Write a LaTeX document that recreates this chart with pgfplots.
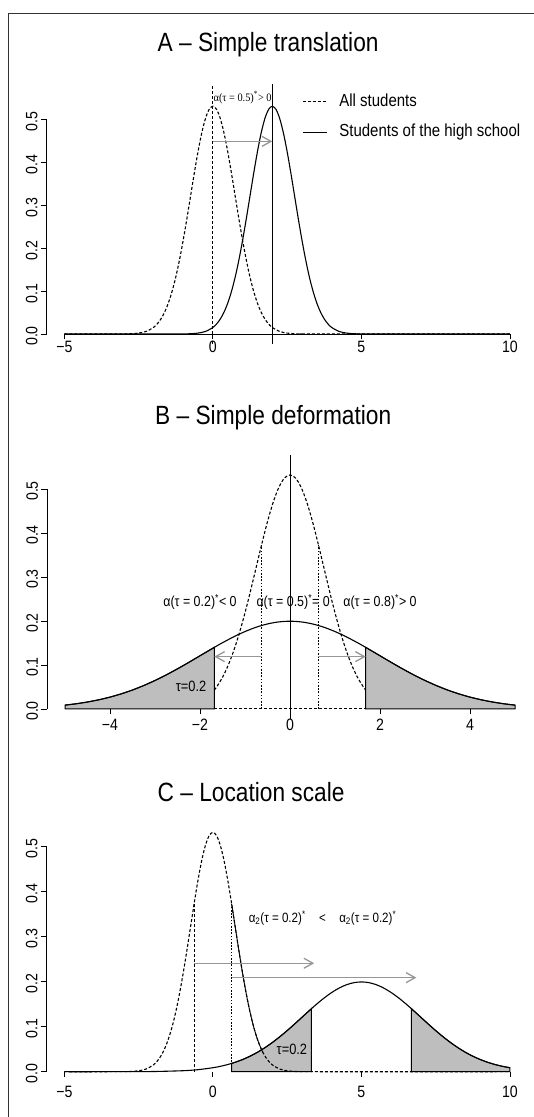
\documentclass[border=0pt]{standalone}
\usepackage{fontspec}
\setmainfont{Liberation Sans}[FakeStretch=0.86]
\newfontfamily\annserif{Liberation Serif}[FakeStretch=0.9]
\usepackage{pgfplots}
\pgfplotsset{compat=1.18}
\usepackage{pgfplotstable}
\usetikzlibrary{arrows.meta}
\definecolor{fillgray}{RGB}{190,190,190}
\definecolor{arrgray}{RGB}{150,150,150}

% N(0,0.75)
\pgfplotstableread{
x y
-5 0
-3.5 0.0000
-3 0.0002
-2.75 0.0006
-2.5 0.0021
-2.25 0.0059
-2 0.0152
-1.875 0.0234
-1.75 0.0350
-1.625 0.0509
-1.5 0.0720
-1.375 0.0991
-1.25 0.1326
-1.125 0.1727
-1 0.2187
-0.875 0.2693
-0.75 0.3226
-0.625 0.3759
-0.5 0.4259
-0.375 0.4694
-0.25 0.5032
-0.125 0.5246
0 0.5319
0.125 0.5246
0.25 0.5032
0.375 0.4694
0.5 0.4259
0.625 0.3759
0.75 0.3226
0.875 0.2693
1 0.2187
1.125 0.1727
1.25 0.1326
1.375 0.0991
1.5 0.0720
1.625 0.0509
1.75 0.0350
1.875 0.0234
2 0.0152
2.25 0.0059
2.5 0.0021
2.75 0.0006
3 0.0002
3.5 0.0000
10 0
}\nzero

% N(2,0.75)
\pgfplotstableread{
x y
-5 0
-1.5 0.0000
-1 0.0002
-0.75 0.0006
-0.5 0.0021
-0.25 0.0059
0 0.0152
0.125 0.0234
0.25 0.0350
0.375 0.0509
0.5 0.0720
0.625 0.0991
0.75 0.1326
0.875 0.1727
1 0.2187
1.125 0.2693
1.25 0.3226
1.375 0.3759
1.5 0.4259
1.625 0.4694
1.75 0.5032
1.875 0.5246
2 0.5319
2.125 0.5246
2.25 0.5032
2.375 0.4694
2.5 0.4259
2.625 0.3759
2.75 0.3226
2.875 0.2693
3 0.2187
3.125 0.1727
3.25 0.1326
3.375 0.0991
3.5 0.0720
3.625 0.0509
3.75 0.0350
3.875 0.0234
4 0.0152
4.25 0.0059
4.5 0.0021
4.75 0.0006
5 0.0002
5.5 0.0000
10 0
}\ntwo

% N(0,0.75) between the 0.2 quantiles of N(0,2)
\pgfplotstableread{
x y
-1.683 0.0429
-1.625 0.0509
-1.5 0.0720
-1.375 0.0991
-1.25 0.1326
-1.125 0.1727
-1 0.2187
-0.875 0.2693
-0.75 0.3226
-0.625 0.3759
-0.5 0.4259
-0.375 0.4694
-0.25 0.5032
-0.125 0.5246
0 0.5319
0.125 0.5246
0.25 0.5032
0.375 0.4694
0.5 0.4259
0.625 0.3759
0.75 0.3226
0.875 0.2693
1 0.2187
1.125 0.1727
1.25 0.1326
1.375 0.0991
1.5 0.0720
1.625 0.0509
1.683 0.0429
}\nzerocut

% N(0,0.75), right flank segment
\pgfplotstableread{
x y
0.631 0.3733
0.75 0.3226
0.875 0.2693
1 0.2187
1.125 0.1727
1.25 0.1326
1.375 0.0991
1.5 0.0720
1.625 0.0509
1.683 0.0429
}\nzeroflank

% N(0,2) on [-5,5]
\pgfplotstableread{
x y
-5 0.0088
-4.75 0.0119
-4.5 0.0159
-4.25 0.0209
-4 0.0270
-3.75 0.0344
-3.5 0.0431
-3.25 0.0533
-3 0.0648
-2.75 0.0775
-2.5 0.0913
-2.25 0.1059
-2 0.1210
-1.75 0.1360
-1.683 0.1400
-1.5 0.1506
-1.25 0.1641
-1 0.1760
-0.75 0.1859
-0.5 0.1933
-0.25 0.1979
0 0.1995
0.25 0.1979
0.5 0.1933
0.75 0.1859
1 0.1760
1.25 0.1641
1.5 0.1506
1.683 0.1400
1.75 0.1360
2 0.1210
2.25 0.1059
2.5 0.0913
2.75 0.0775
3 0.0648
3.25 0.0533
3.5 0.0431
3.75 0.0344
4 0.0270
4.25 0.0209
4.5 0.0159
4.75 0.0119
5 0.0088
}\nBwide

\pgfplotstableread{
x y
-5 0.0088
-4.75 0.0119
-4.5 0.0159
-4.25 0.0209
-4 0.0270
-3.75 0.0344
-3.5 0.0431
-3.25 0.0533
-3 0.0648
-2.75 0.0775
-2.5 0.0913
-2.25 0.1059
-2 0.1210
-1.75 0.1360
-1.683 0.1400
}\nBleft

\pgfplotstableread{
x y
1.683 0.1400
1.75 0.1360
2 0.1210
2.25 0.1059
2.5 0.0913
2.75 0.0775
3 0.0648
3.25 0.0533
3.5 0.0431
3.75 0.0344
4 0.0270
4.25 0.0209
4.5 0.0159
4.75 0.0119
5 0.0088
}\nBright

% N(5,2)
\pgfplotstableread{
x y
-5 0
-4 0.0000
-3 0.0001
-2 0.0004
-1 0.0022
-0.5 0.0045
0 0.0088
0.25 0.0119
0.5 0.0159
0.75 0.0209
1 0.0270
1.25 0.0344
1.5 0.0431
1.75 0.0533
2 0.0648
2.25 0.0775
2.5 0.0913
2.75 0.1059
3 0.1210
3.25 0.1360
3.317 0.1400
3.5 0.1506
3.75 0.1641
4 0.1760
4.25 0.1859
4.5 0.1933
4.75 0.1979
5 0.1995
5.25 0.1979
5.5 0.1933
5.75 0.1859
6 0.1760
6.25 0.1641
6.5 0.1506
6.683 0.1400
6.75 0.1360
7 0.1210
7.25 0.1059
7.5 0.0913
7.75 0.0775
8 0.0648
8.25 0.0533
8.5 0.0431
8.75 0.0344
9 0.0270
9.25 0.0209
9.5 0.0159
9.75 0.0119
10 0.0088
}\nCwide

\pgfplotstableread{
x y
0.631 0.0183
0.75 0.0209
1 0.0270
1.25 0.0344
1.5 0.0431
1.75 0.0533
2 0.0648
2.25 0.0775
2.5 0.0913
2.75 0.1059
3 0.1210
3.25 0.1360
3.317 0.1400
}\nCleft

\pgfplotstableread{
x y
6.683 0.1400
6.75 0.1360
7 0.1210
7.25 0.1059
7.5 0.0913
7.75 0.0775
8 0.0648
8.25 0.0533
8.5 0.0431
8.75 0.0344
9 0.0270
9.25 0.0209
9.5 0.0159
9.75 0.0119
10 0.0088
}\nCright

\pgfplotsset{
  myax/.style={
    scale only axis, clip=false,
    axis lines*=left,
    axis line style={draw=none},
    tick pos=left, tick align=outside,
    major tick length=5.5bp,
    tick style={black, line width=0.9bp},
    ymin=0,
    ytick={0,0.1,0.2,0.3,0.4,0.5},
    yticklabels={0.0,0.1,0.2,0.3,0.4,0.5},
    tick label style={font=\fontsize{16.5}{18}\selectfont},
    yticklabel style={rotate=90, anchor=south, xshift=-2bp},
    xticklabel style={anchor=north},
  },
  dashcurve/.style={black, line width=1.1bp, dash pattern=on 3bp off 2bp},
  solidcurve/.style={black, line width=1.1bp},
  dotline/.style={black, line width=1bp, dash pattern=on 1.6bp off 1.6bp},
  arr/.style={arrgray, line width=1.3bp, -{Straight Barb[length=9bp,width=10bp,line width=1.3bp]}},
}

\begin{document}
\begin{tikzpicture}[x=1bp,y=1bp]
% outer frame
\draw[line width=1.4bp, black!80] (8.3bp,-10bp) -- (8.3bp,1103.7bp) -- (560bp,1103.7bp);

% titles
\node[anchor=base west, inner sep=0pt, font=\fontsize{26.5}{31}\selectfont] at (157.5bp,1065.3bp) {A – Simple translation};
\node[anchor=base west, inner sep=0pt, font=\fontsize{26.5}{31}\selectfont] at (155bp,692bp) {B – Simple deformation};
\node[anchor=base west, inner sep=0pt, font=\fontsize{26.5}{31}\selectfont] at (157.5bp,315bp) {C – Location scale};

% ---------------- Panel A
\begin{axis}[myax, at={(46.5bp,783bp)}, anchor=south west,
  width=481.3bp, height=250bp,
  xmin=-5.6, xmax=10.6, ymax=0.584,
  xtick={-5,0,5,10}, xticklabels={−5,0,5,10},
  xticklabel style={yshift=1.5bp},
  legend style={at={(axis description cs:0.531,0.868)}, anchor=west,
    draw=none, fill=none, inner sep=0pt,
    font=\fontsize{17.5}{20}\selectfont,
    nodes={inner sep=1bp, text height=12.5bp, text depth=3.5bp},
    row sep=12.4bp,
    /tikz/every odd column/.append style={column sep=11bp}},
  legend cell align=left,
  legend image code/.code={\draw[#1] (0bp,0bp) -- (24bp,0bp);},
]
\draw[black, line width=0.9bp] (axis cs:-5.6,0) -- (axis cs:-5.6,0.5);
\draw[black, line width=0.9bp] (axis cs:-5,0) -- (axis cs:10,0);
\addplot[dashcurve, smooth] table {\nzero};
\addlegendentry{All students}
\addplot[solidcurve, smooth] table {\ntwo};
\addlegendentry{Students of the high school}
\addplot[black, line width=1bp, dash pattern=on 3bp off 2bp, forget plot] coordinates {(0,-0.0224) (0,0.584)};
\addplot[black, line width=1bp, forget plot] coordinates {(2,-0.0224) (2,0.584)};
\addplot[arr, forget plot] coordinates {(0,0.45) (2,0.45)};
\node[font=\annserif\fontsize{11.5}{13}\selectfont] at (axis cs:1.0,0.552) {α(τ = 0.5)\textsuperscript{*}> 0};
\end{axis}

% ---------------- Panel B
\begin{axis}[myax, at={(47bp,408bp)}, anchor=south west,
  width=486bp, height=253.9bp,
  xmin=-5.4, xmax=5.4, ymax=0.577,
  xtick={-4,-2,0,2,4}, xticklabels={−4,−2,0,2,4},
  xticklabel style={yshift=-1bp},
]
\draw[black, line width=0.9bp] (axis cs:-5.4,0) -- (axis cs:-5.4,0.5);
\addplot[fill=fillgray, draw=black, line width=1bp] table {\nBleft} \closedcycle;
\addplot[fill=fillgray, draw=black, line width=1bp] table {\nBright} \closedcycle;
\addplot[black, line width=1bp, dash pattern=on 3bp off 2bp] coordinates {(-1.683,0) (1.683,0)};
\addplot[solidcurve, smooth] table {\nBwide};
\addplot[dashcurve, smooth] table {\nzerocut};
\addplot[dotline] coordinates {(-0.631,0) (-0.631,0.3733)};
\addplot[dotline] coordinates {(0.631,0) (0.631,0.3733)};
\addplot[black, line width=0.9bp] coordinates {(0,-0.0221) (0,0.577)};
\addplot[arr] coordinates {(-0.631,0.119) (-1.683,0.119)};
\addplot[arr] coordinates {(0.631,0.119) (1.683,0.119)};
\node[font=\fontsize{14.5}{16}\selectfont] at (axis cs:-2.0,0.243) {α(τ = 0.2)\textsuperscript{*}< 0};
\node[font=\fontsize{14.5}{16}\selectfont] at (axis cs:0.07,0.243) {α(τ = 0.5)\textsuperscript{*}= 0};
\node[font=\fontsize{14.5}{16}\selectfont] at (axis cs:2.0,0.243) {α(τ = 0.8)\textsuperscript{*}> 0};
\node[font=\fontsize{15}{17}\selectfont] at (axis cs:-2.2,0.052) {τ=0.2};
\end{axis}

% ---------------- Panel C
\begin{axis}[myax, at={(46.5bp,45.3bp)}, anchor=south west,
  width=481.3bp, height=252bp,
  xmin=-5.6, xmax=10.6, ymax=0.56,
  xtick={-5,0,5,10}, xticklabels={−5,0,5,10},
  xticklabel style={yshift=-5.5bp},
]
\draw[black, line width=0.9bp] (axis cs:-5.6,0) -- (axis cs:-5.6,0.5);
\addplot[fill=fillgray, draw=black, line width=1bp] table {\nCleft} \closedcycle;
\addplot[fill=fillgray, draw=black, line width=1bp] table {\nCright} \closedcycle;
\addplot[solidcurve, smooth] table {\nCwide};
\addplot[dashcurve, smooth] table {\nzero};
\addplot[black, line width=0.9bp, smooth] table {\nzeroflank};
\addplot[black, line width=1bp, dash pattern=on 3bp off 2bp] coordinates {(-0.631,0) (-0.631,0.3733)};
\addplot[dotline] coordinates {(0.631,0) (0.631,0.3733)};
\addplot[arr] coordinates {(-0.631,0.241) (3.41,0.241)};
\addplot[arr] coordinates {(0.631,0.209) (6.85,0.209)};
\node[anchor=west, font=\fontsize{13.5}{15}\selectfont] at (axis cs:1.09,0.341) {α\textsubscript{2}(τ = 0.2)\textsuperscript{*}\hspace{1em}<\hspace{1em}α\textsubscript{2}(τ = 0.2)\textsuperscript{*}};
\node[font=\fontsize{15}{17}\selectfont] at (axis cs:2.66,0.05) {τ=0.2};
\end{axis}

\pgfresetboundingbox
\useasboundingbox (0bp,0bp) rectangle (534bp,1117bp);
\end{tikzpicture}
\end{document}
